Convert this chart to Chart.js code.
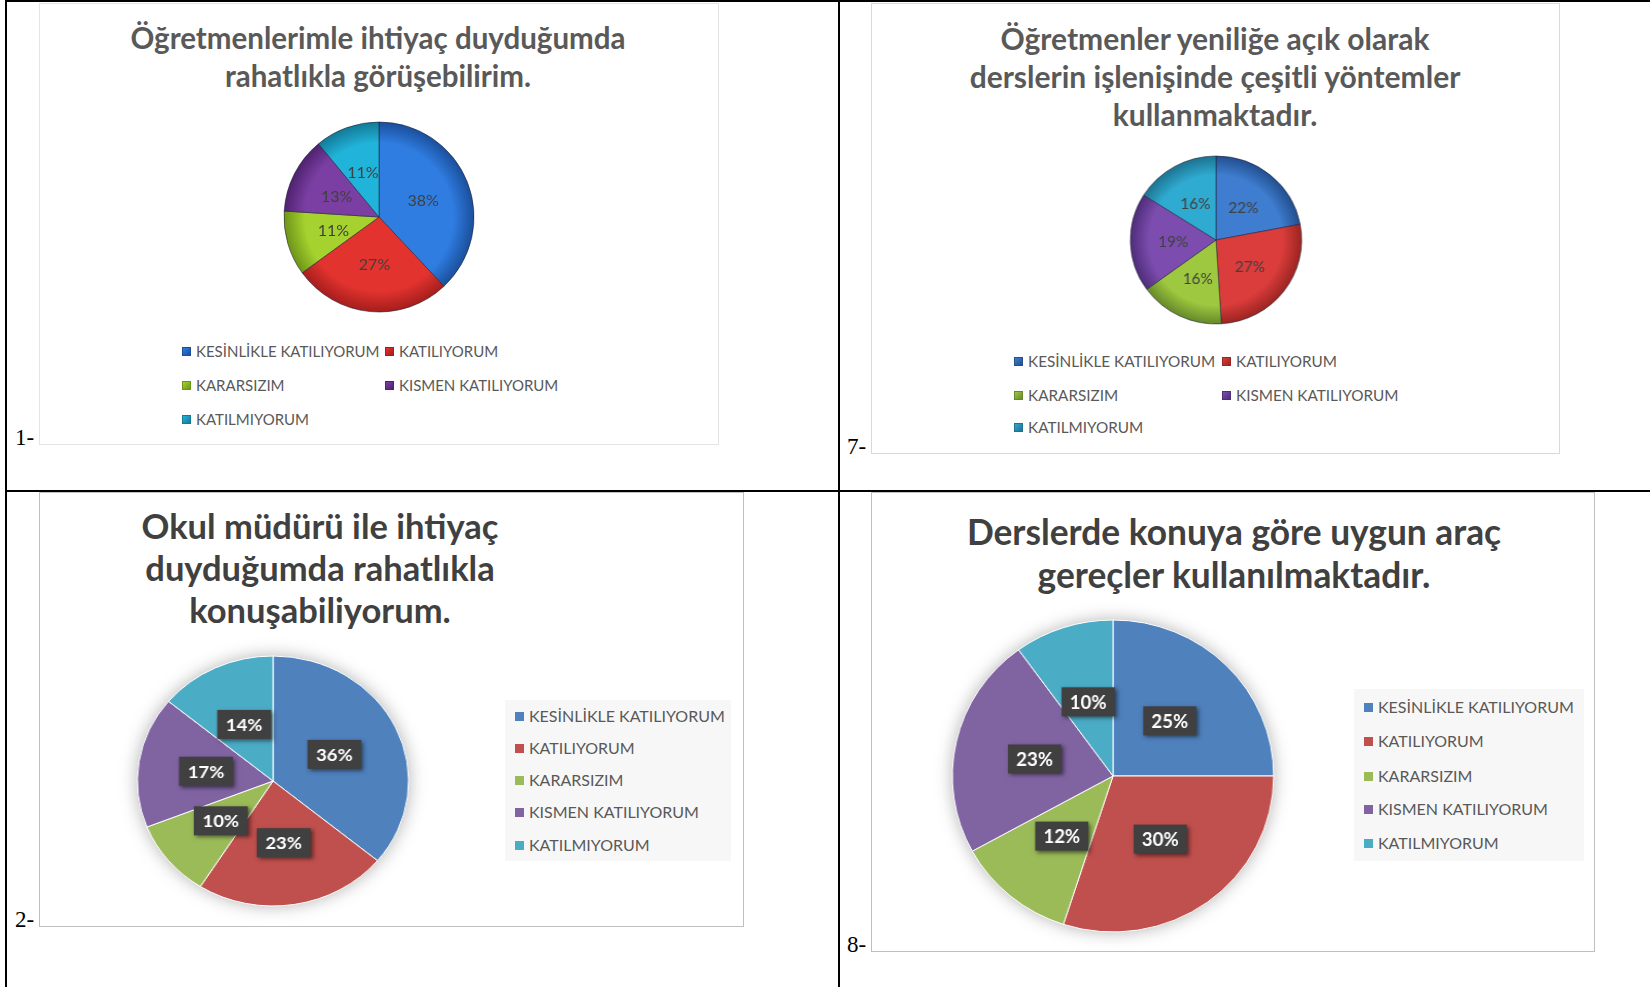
<!DOCTYPE html>
<html lang="tr">
<head>
<meta charset="UTF-8">
<title>Anket sonuçları</title>
<style>
    body {
        margin: 0;
        width: 1650px;
        height: 987px;
        position: relative;
        overflow: hidden;
        background: #fff;
        font-family: Lato, "Open Sans", sans-serif;
    }
    .rule { position: absolute; background: #000; }
    .box { position: absolute; box-sizing: border-box; background: #fff; }
    .title { position: absolute; width: 800px; text-align: center; font-weight: bold; white-space: nowrap; }
    .num { position: absolute; font-family: "Liberation Serif", serif; font-size: 23px; line-height: 24px; color: #000; }
    .pie { position: absolute; transform-origin: 50% 50%; }
    .panel { position: absolute; background: #f7f7f7; }
    .item { position: absolute; white-space: nowrap; line-height: 20px; color: #595959; }
    .mk { display: inline-block; width: 9px; height: 9px; margin-right: 5px; vertical-align: 1px; box-sizing: border-box; }
</style>
</head>
<body>
<script src="https://cdn.jsdelivr.net/npm/chart.js"></script>
<script>
    // --- data ---
    const categories = ['KESİNLİKLE KATILIYORUM', 'KATILIYORUM', 'KARARSIZIM', 'KISMEN KATILIYORUM', 'KATILMIYORUM'];

    const values1 = [38, 27, 11, 13, 11];
    const values7 = [22, 27, 16, 19, 16];
    const values2 = [36, 23, 10, 17, 14];
    const values8 = [25, 30, 12, 23, 10];

    const title1 = ['Öğretmenlerimle ihtiyaç duyduğumda', 'rahatlıkla görüşebilirim.'];
    const title7 = ['Öğretmenler yeniliğe açık olarak', 'derslerin işlenişinde çeşitli yöntemler', 'kullanmaktadır.'];
    const title2 = ['Okul müdürü ile ihtiyaç', 'duyduğumda rahatlıkla', 'konuşabiliyorum.'];
    const title8 = ['Derslerde konuya göre uygun araç', 'gereçler kullanılmaktadır.'];

    // --- colours ---
    const glossy1 = ['#2F7DE1', '#E3332F', '#A5D22E', '#7B3FA4', '#21B4DA'];
    const glossy1Dark = ['#1B4F9C', '#A51E1C', '#6E9418', '#4F2270', '#137A98'];
    const glossy7 = ['#3E7DCF', '#DA3D3B', '#9DC83F', '#7C4DAF', '#2FAAD0'];
    const glossy7Dark = ['#234F8F', '#9C2422', '#66892A', '#4F2D7A', '#1D7391'];
    const flat = ['#4F81BD', '#C0504D', '#9BBB59', '#8064A2', '#4BACC6'];

    // --- layout of the four cells ---
    const layouts = [
        { num: '1-', numPos: [15, 446], values: values1, title: title1,
          box: [39, 3, 680, 442], boxBorder: '#e4e4e4',
          titlePos: { cx: 378, y: 38, lh: 38, size: 29.5, color: '#595959' },
          pie: { cx: 379, cy: 217, r: 95, sx: 1 }, colors: glossy1, dark: glossy1Dark,
          labelFont: '16px Lato', labelColor: '#404040', boxed: false, shadow: 0,
          legend: { cols: [182, 385], rows: [351, 385, 419], size: 15 } },
        { num: '7-', numPos: [847, 455], values: values7, title: title7,
          box: [871, 3, 689, 451], boxBorder: '#d9d9d9',
          titlePos: { cx: 1215, y: 38, lh: 38, size: 30, color: '#595959' },
          pie: { cx: 1216, cy: 240, r: 84, sx: 1.02 }, colors: glossy7, dark: glossy7Dark,
          labelFont: '15px Lato', labelColor: '#404040', boxed: false, shadow: 0,
          legend: { cols: [1014, 1222], rows: [361, 395, 427], size: 15.3 } },
        { num: '2-', numPos: [15, 928], values: values2, title: title2,
          box: [39, 492, 705, 435], boxBorder: '#bfbfbf',
          titlePos: { cx: 320, y: 526, lh: 42, size: 34.5, color: '#404040' },
          pie: { cx: 273, cy: 781, r: 125, sx: 1.085 }, colors: flat, dark: null,
          labelFont: 'bold 17px Lato', labelColor: '#fff', boxed: true, shadow: 18,
          legend: { panel: [505, 700, 226, 161], x: 515, rows: [716, 748, 780, 812, 845], size: 16 } },
        { num: '8-', numPos: [847, 953], values: values8, title: title8,
          box: [871, 492, 724, 460], boxBorder: '#bfbfbf',
          titlePos: { cx: 1234, y: 531, lh: 43, size: 35.3, color: '#404040' },
          pie: { cx: 1113, cy: 776, r: 156, sx: 1.03 }, colors: flat, dark: null,
          labelFont: 'bold 18px Lato', labelColor: '#fff', boxed: true, shadow: 18,
          legend: { panel: [1354, 689, 230, 172], x: 1364, rows: [707, 741, 776, 809, 843], size: 16 } }
    ];

    function addDiv(cls, css, html) {
        const d = document.createElement('div');
        d.className = cls;
        Object.assign(d.style, css);
        if (html !== undefined) d.innerHTML = html;
        document.body.appendChild(d);
        return d;
    }

    // table rules
    addDiv('rule', { left: '5px', top: '0px', width: '2px', height: '987px' });
    addDiv('rule', { left: '5px', top: '0px', width: '1645px', height: '2px' });
    addDiv('rule', { left: '838px', top: '0px', width: '2px', height: '987px' });
    addDiv('rule', { left: '5px', top: '490px', width: '1645px', height: '2px' });

    // soft shadow behind the flat pies
    const pieShadow = {
        id: 'pieShadow',
        beforeDatasetsDraw(chart, args, opts) {
            if (!opts.blur) return;
            const arc = chart.getDatasetMeta(0).data[0];
            const ctx = chart.ctx;
            ctx.save();
            ctx.shadowColor = 'rgba(0,0,0,0.35)';
            ctx.shadowBlur = opts.blur;
            ctx.fillStyle = '#fff';
            ctx.beginPath();
            ctx.arc(arc.x, arc.y, arc.outerRadius - 1, 0, Math.PI * 2);
            ctx.fill();
            ctx.restore();
        }
    };

    // percentage labels at half radius of each slice
    const percentLabels = {
        id: 'percentLabels',
        afterDatasetsDraw(chart, args, opts) {
            const ctx = chart.ctx;
            const meta = chart.getDatasetMeta(0);
            const data = chart.data.datasets[0].data;
            ctx.save();
            ctx.font = opts.font;
            ctx.textAlign = 'center';
            ctx.textBaseline = 'middle';
            meta.data.forEach((arc, i) => {
                const p = arc.getCenterPoint();
                const text = data[i] + '%';
                if (opts.boxed) {
                    const w = ctx.measureText(text).width + 16, h = 29;
                    ctx.shadowColor = 'rgba(0,0,0,0.5)';
                    ctx.shadowBlur = 4;
                    ctx.shadowOffsetX = 2;
                    ctx.shadowOffsetY = 2;
                    ctx.fillStyle = '#404040';
                    ctx.fillRect(p.x - w / 2, p.y - h / 2, w, h);
                    ctx.shadowColor = 'transparent';
                }
                ctx.fillStyle = opts.color;
                ctx.fillText(text, p.x, p.y + 1);
            });
            ctx.restore();
        }
    };

    layouts.forEach(L => {
        const [bx, by, bw, bh] = L.box;
        addDiv('box', { left: bx + 'px', top: by + 'px', width: bw + 'px', height: bh + 'px', border: '1px solid ' + L.boxBorder });
        addDiv('num', { left: L.numPos[0] + 'px', top: (L.numPos[1] - 20) + 'px' }, L.num);

        const t = L.titlePos;
        addDiv('title', {
            left: (t.cx - 400) + 'px', top: (t.y - t.lh / 2) + 'px',
            fontSize: t.size + 'px', lineHeight: t.lh + 'px', color: t.color
        }, L.title.join('<br>'));

        // legend
        const lg = L.legend;
        if (lg.panel) {
            addDiv('panel', { left: lg.panel[0] + 'px', top: lg.panel[1] + 'px', width: lg.panel[2] + 'px', height: lg.panel[3] + 'px' });
        }
        categories.forEach((c, i) => {
            const x = lg.panel ? lg.x : lg.cols[i % 2];
            const y = lg.panel ? lg.rows[i] : lg.rows[Math.floor(i / 2)];
            const mkStyle = L.dark
                ? 'background:linear-gradient(135deg,' + L.colors[i] + ',' + L.dark[i] + ');border:1px solid ' + L.dark[i]
                : 'background:' + L.colors[i];
            addDiv('item', { left: x + 'px', top: (y - 10) + 'px', fontSize: lg.size + 'px' },
                '<span class="mk" style="' + mkStyle + '"></span>' + c);
        });

        // pie
        const pad = 24;
        const size = 2 * (L.pie.r + pad);
        const canvas = document.createElement('canvas');
        canvas.className = 'pie';
        canvas.width = size;
        canvas.height = size;
        canvas.style.left = (L.pie.cx - size / 2) + 'px';
        canvas.style.top = (L.pie.cy - size / 2) + 'px';
        canvas.style.transform = 'scaleX(' + L.pie.sx + ')';
        document.body.appendChild(canvas);

        const r = L.pie.r;
        new Chart(canvas.getContext('2d'), {
            type: 'pie',
            data: {
                labels: categories,
                datasets: [{
                    data: L.values,
                    radius: r,
                    hoverOffset: 0,
                    borderWidth: 1,
                    borderColor: L.dark ? 'rgba(30,30,50,0.55)' : '#ffffff',
                    backgroundColor: ctx => {
                        const base = L.colors[ctx.dataIndex];
                        if (!L.dark) return base;
                        const g = ctx.chart.ctx.createRadialGradient(size / 2, size / 2, 0, size / 2, size / 2, r);
                        g.addColorStop(0, base);
                        g.addColorStop(0.78, base);
                        g.addColorStop(1, L.dark[ctx.dataIndex]);
                        return g;
                    }
                }]
            },
            options: {
                responsive: false,
                animation: false,
                layout: { padding: pad },
                plugins: {
                    legend: { display: false },
                    tooltip: { enabled: false },
                    pieShadow: { blur: L.shadow },
                    percentLabels: { font: L.labelFont, color: L.labelColor, boxed: L.boxed }
                }
            },
            plugins: [pieShadow, percentLabels]
        });
    });
</script>
</body>
</html>
